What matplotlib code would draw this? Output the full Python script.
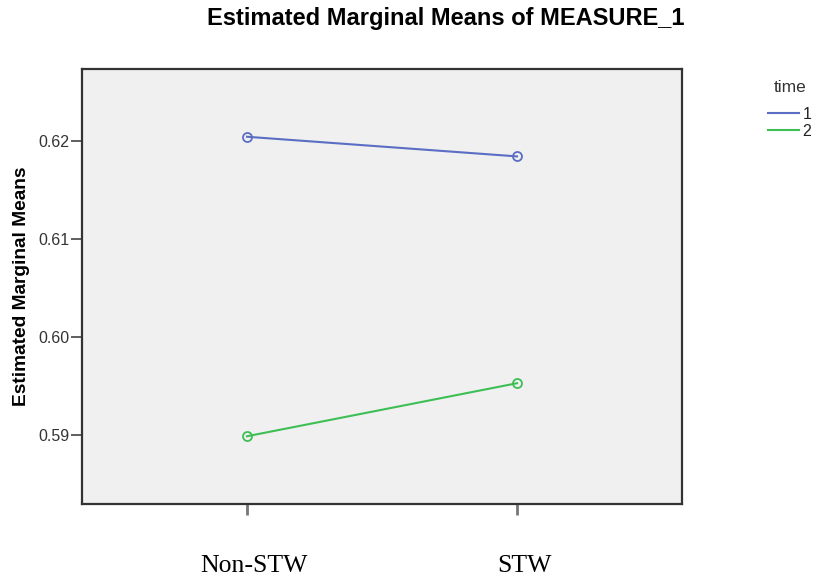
import matplotlib
matplotlib.use("Agg")
import matplotlib.pyplot as plt
import matplotlib.transforms as mtransforms

categories = ["Non-STW", "STW"]
time1 = [0.6204, 0.6184]
time2 = [0.5899, 0.5953]
yticks = [0.59, 0.60, 0.61, 0.62]
ytick_labels = ["0.59", "0.60", "0.61", "0.62"]

fig = plt.figure(figsize=(8.17, 5.82), dpi=100)
ax = fig.add_axes([82/817, 1-504/582, (682-82)/817, (504-69)/582])
ax.set_facecolor("#f0f0f0")

x = list(range(len(categories)))
l1, = ax.plot(x, time1, color="#5b6ec4", lw=1.5, marker="o", ms=6.5,
              mfc="none", mec="#5b6ec4", mew=1.3)
l2, = ax.plot(x, time2, color="#3dbf55", lw=1.5, marker="o", ms=6.5,
              mfc="none", mec="#3dbf55", mew=1.3)

ax.set_xlim(-0.611, 1.611)
ax.set_ylim(0.5830, 0.6273)
ax.set_xticks(x)
ax.set_xticklabels(categories, fontfamily="Liberation Serif", fontsize=18.5)
ax.set_yticks(yticks)
ax.set_yticklabels(ytick_labels, fontfamily="Liberation Sans", fontsize=11.5, color="#333333")
ax.tick_params(axis="x", length=8, width=2, color="#777777", pad=29)
ax.tick_params(axis="y", length=8, width=1.2, color="#444444", pad=1)
offset = mtransforms.ScaledTranslation(7/100, 0, fig.dpi_scale_trans)
for lab in ax.get_xticklabels():
    lab.set_transform(lab.get_transform() + offset)
for s in ax.spines.values():
    s.set_color("#333333")
    s.set_linewidth(1.6)

ax.set_ylabel("Estimated Marginal Means", fontfamily="Liberation Sans",
              fontsize=13.8, fontweight="bold", labelpad=6)
fig.text(0.545, 1-19/582, "Estimated Marginal Means of MEASURE_1",
         ha="center", va="center", fontfamily="Liberation Sans",
         fontsize=17, fontweight="bold")

fig.text(790/817, 1-88/582, "time", ha="center", va="center",
         fontfamily="Liberation Sans", fontsize=12.5, color="#333333")
leg = fig.legend([l1, l2], ["1", "2"],
                 loc="upper right", bbox_to_anchor=(0.993, 1-107/582),
                 frameon=False, handlelength=1.95, handletextpad=0.2,
                 labelspacing=0.12, prop={"family": "Liberation Sans", "size": 11.5},
                 borderpad=0, borderaxespad=0)
for h in leg.legend_handles:
    h.set_marker("")
for t in leg.get_texts():
    t.set_color("#222222")

fig.savefig("out.png", dpi=100, facecolor="white")
